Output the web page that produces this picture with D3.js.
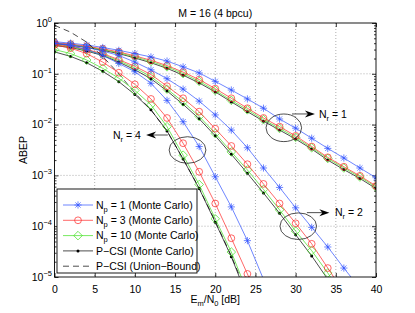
<!DOCTYPE html>
<html><head><meta charset="utf-8">
<script src="https://cdn.jsdelivr.net/npm/d3@7"></script>
<style>
body{margin:0;background:#fff;}
svg{font-family:"Liberation Sans",Arial,Helvetica,sans-serif;}
</style></head><body>
<svg id="c" width="415" height="313"></svg>
<script>
// ---------------- DATA ----------------
const snr = [0,2,4,6,8,10,12,14,16,18,20,22,24,26,28,30,32,34,36,38,40];
const xTicks = [0,5,10,15,20,25,30,35,40];
const yTicks = [1e-5,1e-4,1e-3,1e-2,1e-1,1];
const yTickExp = ["\u22125","\u22124","\u22123","\u22122","\u22121","0"];

// Nr = 1
const nr1_np1  = [0.43,0.40,0.37,0.33,0.29,0.25,0.215,0.178,0.137,0.104,0.071,0.048,0.032,0.021,0.0129,0.0085,0.0054,0.0034,0.0022,0.0014,0.0009];
const nr1_np3  = [0.41,0.385,0.35,0.31,0.27,0.225,0.185,0.145,0.108,0.077,0.051,0.033,0.021,0.0135,0.0091,0.006,0.0037,0.00227,0.00148,0.00098,0.00062];
const nr1_np10 = [0.40,0.375,0.34,0.30,0.26,0.215,0.175,0.137,0.101,0.071,0.047,0.030,0.0195,0.0125,0.0084,0.0056,0.0035,0.00215,0.0014,0.00093,0.00059];
const nr1_pcsi = [0.39,0.365,0.33,0.29,0.25,0.205,0.165,0.128,0.094,0.066,0.044,0.028,0.018,0.0117,0.0078,0.0052,0.0033,0.002,0.0013,0.00087,0.00055];
// Nr = 2
const nr2_np1  = [0.40,0.37,0.33,0.28,0.23,0.17,0.12,0.08,0.05,0.029,0.0155,0.0078,0.0035,0.0014,0.00058,0.00023,0.000095,0.000039,0.000015,0.000006];
const nr2_np3  = [0.38,0.35,0.30,0.25,0.19,0.14,0.097,0.057,0.033,0.018,0.0083,0.0038,0.00166,0.00068,0.00028,0.000114,0.000045,0.000015,0.000005];
const nr2_np10 = [0.37,0.34,0.29,0.24,0.18,0.13,0.088,0.05,0.028,0.0145,0.0067,0.0029,0.00128,0.00053,0.00021,0.00008,0.000033,0.000012,0.000004];
const nr2_pcsi = [0.36,0.33,0.28,0.23,0.17,0.12,0.08,0.046,0.025,0.013,0.006,0.0026,0.0011,0.00045,0.00018,0.000068,0.000026,0.000009];
// Nr = 4
const nr4_np1  = [0.40,0.36,0.30,0.23,0.16,0.11,0.065,0.03,0.0114,0.0037,0.00094,0.00024,0.000052,0.000009];
const nr4_np3  = [0.37,0.32,0.25,0.17,0.105,0.062,0.032,0.0135,0.0043,0.00118,0.00028,0.000058,0.0000115,0.000002];
const nr4_np10 = [0.30,0.25,0.187,0.128,0.082,0.047,0.0245,0.0091,0.0025,0.00066,0.00014,0.000031,0.000005];
const nr4_pcsi = [0.27,0.22,0.165,0.112,0.07,0.039,0.0195,0.0075,0.0021,0.00055,0.00012,0.000025,0.000004];
const nr4_ub   = [0.90,0.66,0.42,0.22,0.10,0.042,0.0195,0.0075,0.0021,0.00056,0.000125,0.000026,0.0000045];

const legendLabels = [["N","p"," = 1 (Monte Carlo)"],["N","p"," = 3 (Monte Carlo)"],["N","p"," = 10 (Monte Carlo)"],["P\u2212CSI (Monte Carlo)"],["P\u2212CSI (Union\u2212Bound)"]];
const nrLabels = ["1","2","4"];

// ---------------- SETUP ----------------
const svg = d3.select("#c");
const M = {l:54.5, r:376, t:23, b:277};
const x = d3.scaleLinear().domain([0,40]).range([M.l,M.r]);
const y = d3.scaleLog().domain([1e-5,1]).range([M.b,M.t]);

const C = {blue:"#2f52ff", red:"#ff2626", green:"#3fe01c", black:"#000"};
const LW = 0.7;

svg.append("rect").attr("width",415).attr("height",313).attr("fill","#fff");
svg.append("defs").append("clipPath").attr("id","clip").append("rect")
  .attr("x",M.l).attr("y",M.t).attr("width",M.r-M.l).attr("height",M.b-M.t);

// grid
const grid = svg.append("g").attr("stroke","#9a9a9a").attr("stroke-width",0.8).attr("stroke-dasharray","1,2");
xTicks.slice(1,-1).forEach(v=>grid.append("line").attr("x1",x(v)).attr("x2",x(v)).attr("y1",M.t).attr("y2",M.b));
yTicks.slice(1,-1).forEach(v=>grid.append("line").attr("y1",y(v)).attr("y2",y(v)).attr("x1",M.l).attr("x2",M.r));

// axes (ticks inside)
const minors = [];
for (let d=-5; d<0; d++) for (let k=2;k<=9;k++) minors.push(k*Math.pow(10,d));
function styleAxis(g){ g.select(".domain").remove(); g.selectAll("line").attr("stroke","#000").attr("stroke-width",0.8); }
svg.append("g").attr("transform",`translate(0,${M.b})`)
  .call(d3.axisBottom(x).tickValues(xTicks).tickSizeInner(-4).tickSizeOuter(0).tickPadding(9))
  .call(g=>{styleAxis(g); g.selectAll("text").attr("font-size",10.5).attr("fill","#000").attr("font-family","Liberation Sans, Arial");});
svg.append("g").attr("transform",`translate(0,${M.t})`)
  .call(d3.axisTop(x).tickValues(xTicks).tickSizeInner(-4).tickSizeOuter(0).tickFormat(""))
  .call(styleAxis);
svg.append("g").attr("transform",`translate(${M.l},0)`)
  .call(d3.axisLeft(y).tickValues(yTicks).tickSizeInner(-4).tickSizeOuter(0).tickFormat(""))
  .call(styleAxis);
svg.append("g").attr("transform",`translate(${M.r},0)`)
  .call(d3.axisRight(y).tickValues(yTicks).tickSizeInner(-4).tickSizeOuter(0).tickFormat(""))
  .call(styleAxis);
svg.append("g").attr("transform",`translate(${M.l},0)`)
  .call(d3.axisLeft(y).tickValues(minors).tickSizeInner(-2).tickSizeOuter(0).tickFormat(""))
  .call(styleAxis);
svg.append("g").attr("transform",`translate(${M.r},0)`)
  .call(d3.axisRight(y).tickValues(minors).tickSizeInner(-2).tickSizeOuter(0).tickFormat(""))
  .call(styleAxis);

// y tick labels with superscripts
yTicks.forEach((v,i)=>{
  const t = svg.append("text").attr("x",52).attr("y",y(v)+3.8).attr("text-anchor","end")
    .attr("font-size",10.5).attr("fill","#000");
  t.append("tspan").text("10");
  t.append("tspan").attr("dy",-5).attr("font-size",7.5).text(yTickExp[i]);
});

// ---------------- SERIES ----------------
const series = [];
[[nr1_np1,nr1_np3,nr1_np10,nr1_pcsi,null],[nr2_np1,nr2_np3,nr2_np10,nr2_pcsi,null],[nr4_np1,nr4_np3,nr4_np10,nr4_pcsi,nr4_ub]]
 .forEach(g=>{
   series.push({v:g[4],color:C.black,mk:null,dash:"6,4"});
   series.push({v:g[3],color:C.black,mk:"dot"});
   series.push({v:g[2],color:C.green,mk:"diamond"});
   series.push({v:g[1],color:C.red,mk:"circle"});
   series.push({v:g[0],color:C.blue,mk:"star"});
 });

function markerPath(type){
  if(type==="star"){const s=3.6,d=2.6;return `M${-s},0L${s},0M0,${-s}L0,${s}M${-d},${-d}L${d},${d}M${-d},${d}L${d},${-d}`;}
  if(type==="diamond"){const s=4.3;return `M0,${-s}L${s},0L0,${s}L${-s},0Z`;}
  return null;
}
function drawMarker(g,type,px,py,color){
  if(type==="circle") g.append("circle").attr("cx",px).attr("cy",py).attr("r",3.4).attr("fill","none").attr("stroke",color).attr("stroke-width",LW);
  else if(type==="dot") g.append("circle").attr("cx",px).attr("cy",py).attr("r",1.5).attr("fill",color);
  else if(type) g.append("path").attr("d",markerPath(type)).attr("transform",`translate(${px},${py})`).attr("fill","none").attr("stroke",color).attr("stroke-width",LW);
}

const plot = svg.append("g").attr("clip-path","url(#clip)");
const line = d3.line().x((d,i)=>x(snr[i])).y(d=>y(d));
series.forEach(s=>{
  if(!s.v) return;
  plot.append("path").attr("d",line(s.v)).attr("fill","none").attr("stroke",s.color)
    .attr("stroke-width",LW).attr("stroke-dasharray",s.dash||null);
  s.v.forEach((v,i)=>{ if(v>=1e-5 && v<=1) drawMarker(plot,s.mk,x(snr[i]),y(v),s.color); });
});

// frame
svg.append("rect").attr("x",M.l).attr("y",M.t).attr("width",M.r-M.l).attr("height",M.b-M.t)
  .attr("fill","none").attr("stroke","#000").attr("stroke-width",0.9);

// ---------------- ANNOTATIONS ----------------
const ann = [
  {cx:28.53, cy:0.00865, rx:17.8, ry:13.8, ax1:29.55, ax2:32.4, ay:0.0162, tx:32.9, anchor:"start"},
  {cx:30.33, cy:0.000100, rx:18.3, ry:13.3, ax1:31.4, ax2:34.2, ay:0.000185, tx:34.9, anchor:"start"},
  {cx:16.55, cy:0.00316, rx:18.4, ry:13.3, ax1:14.1, ax2:11.4, ay:0.00624, tx:10.75, anchor:"end"}
];
ann.forEach((a,i)=>{
  svg.append("ellipse").attr("cx",x(a.cx)).attr("cy",y(a.cy)).attr("rx",a.rx).attr("ry",a.ry)
    .attr("fill","none").attr("stroke","#222").attr("stroke-width",0.8);
  const x1=x(a.ax1), x2=x(a.ax2), yy=y(a.ay), dir=Math.sign(x2-x1);
  svg.append("line").attr("x1",x1).attr("x2",x2-dir*6).attr("y1",yy).attr("y2",yy).attr("stroke","#222").attr("stroke-width",0.8);
  svg.append("path").attr("d",`M${x2},${yy}L${x2-dir*10},${yy-3.5}L${x2-dir*7},${yy}L${x2-dir*10},${yy+3.5}Z`).attr("fill","#000");
  const t = svg.append("text").attr("x",x(a.tx)).attr("y",yy+3.6).attr("text-anchor",a.anchor).attr("font-size",10.5).attr("fill","#000");
  t.append("tspan").text("N");
  t.append("tspan").attr("dy",3).attr("font-size",7.5).text("r");
  t.append("tspan").attr("dy",-3).text(" = "+nrLabels[i]);
});

// ---------------- LEGEND ----------------
const L = {x:57, y:189, w:140, h:84};
svg.append("rect").attr("x",L.x).attr("y",L.y).attr("width",L.w).attr("height",L.h)
  .attr("fill","#fff").attr("stroke","#000").attr("stroke-width",0.9);
const legItems = [
  {color:C.blue,mk:"star"},{color:C.red,mk:"circle"},{color:C.green,mk:"diamond"},
  {color:C.black,mk:"dot"},{color:C.black,mk:null,dash:"6,4"}
];
legItems.forEach((it,i)=>{
  const yy = 205 + i*15.3;
  svg.append("line").attr("x1",63).attr("x2",93).attr("y1",yy).attr("y2",yy)
    .attr("stroke",it.color).attr("stroke-width",LW).attr("stroke-dasharray",it.dash||null);
  drawMarker(svg,it.mk,78,yy,it.color);
  const t = svg.append("text").attr("x",96).attr("y",yy+3.6).attr("font-size",10.5).attr("fill","#000");
  const lab = legendLabels[i];
  if(lab.length===3){
    t.append("tspan").text(lab[0]);
    t.append("tspan").attr("dy",3).attr("font-size",7.5).text(lab[1]);
    t.append("tspan").attr("dy",-3).text(lab[2]);
  } else t.text(lab[0]);
});

// ---------------- TITLES ----------------
svg.append("text").attr("x",(M.l+M.r)/2).attr("y",17).attr("text-anchor","middle").attr("font-size",10.5).text("M = 16 (4 bpcu)");
const xl = svg.append("text").attr("x",(M.l+M.r)/2).attr("y",303).attr("text-anchor","middle").attr("font-size",10.5);
xl.append("tspan").text("E");
xl.append("tspan").attr("dy",3).attr("font-size",7.5).text("m");
xl.append("tspan").attr("dy",-3).text("/N");
xl.append("tspan").attr("dy",3).attr("font-size",7.5).text("0");
xl.append("tspan").attr("dy",-3).text(" [dB]");
svg.append("text").attr("transform","translate(27,150) rotate(-90)").attr("text-anchor","middle").attr("font-size",10.5).text("ABEP");
</script>
</body></html>
